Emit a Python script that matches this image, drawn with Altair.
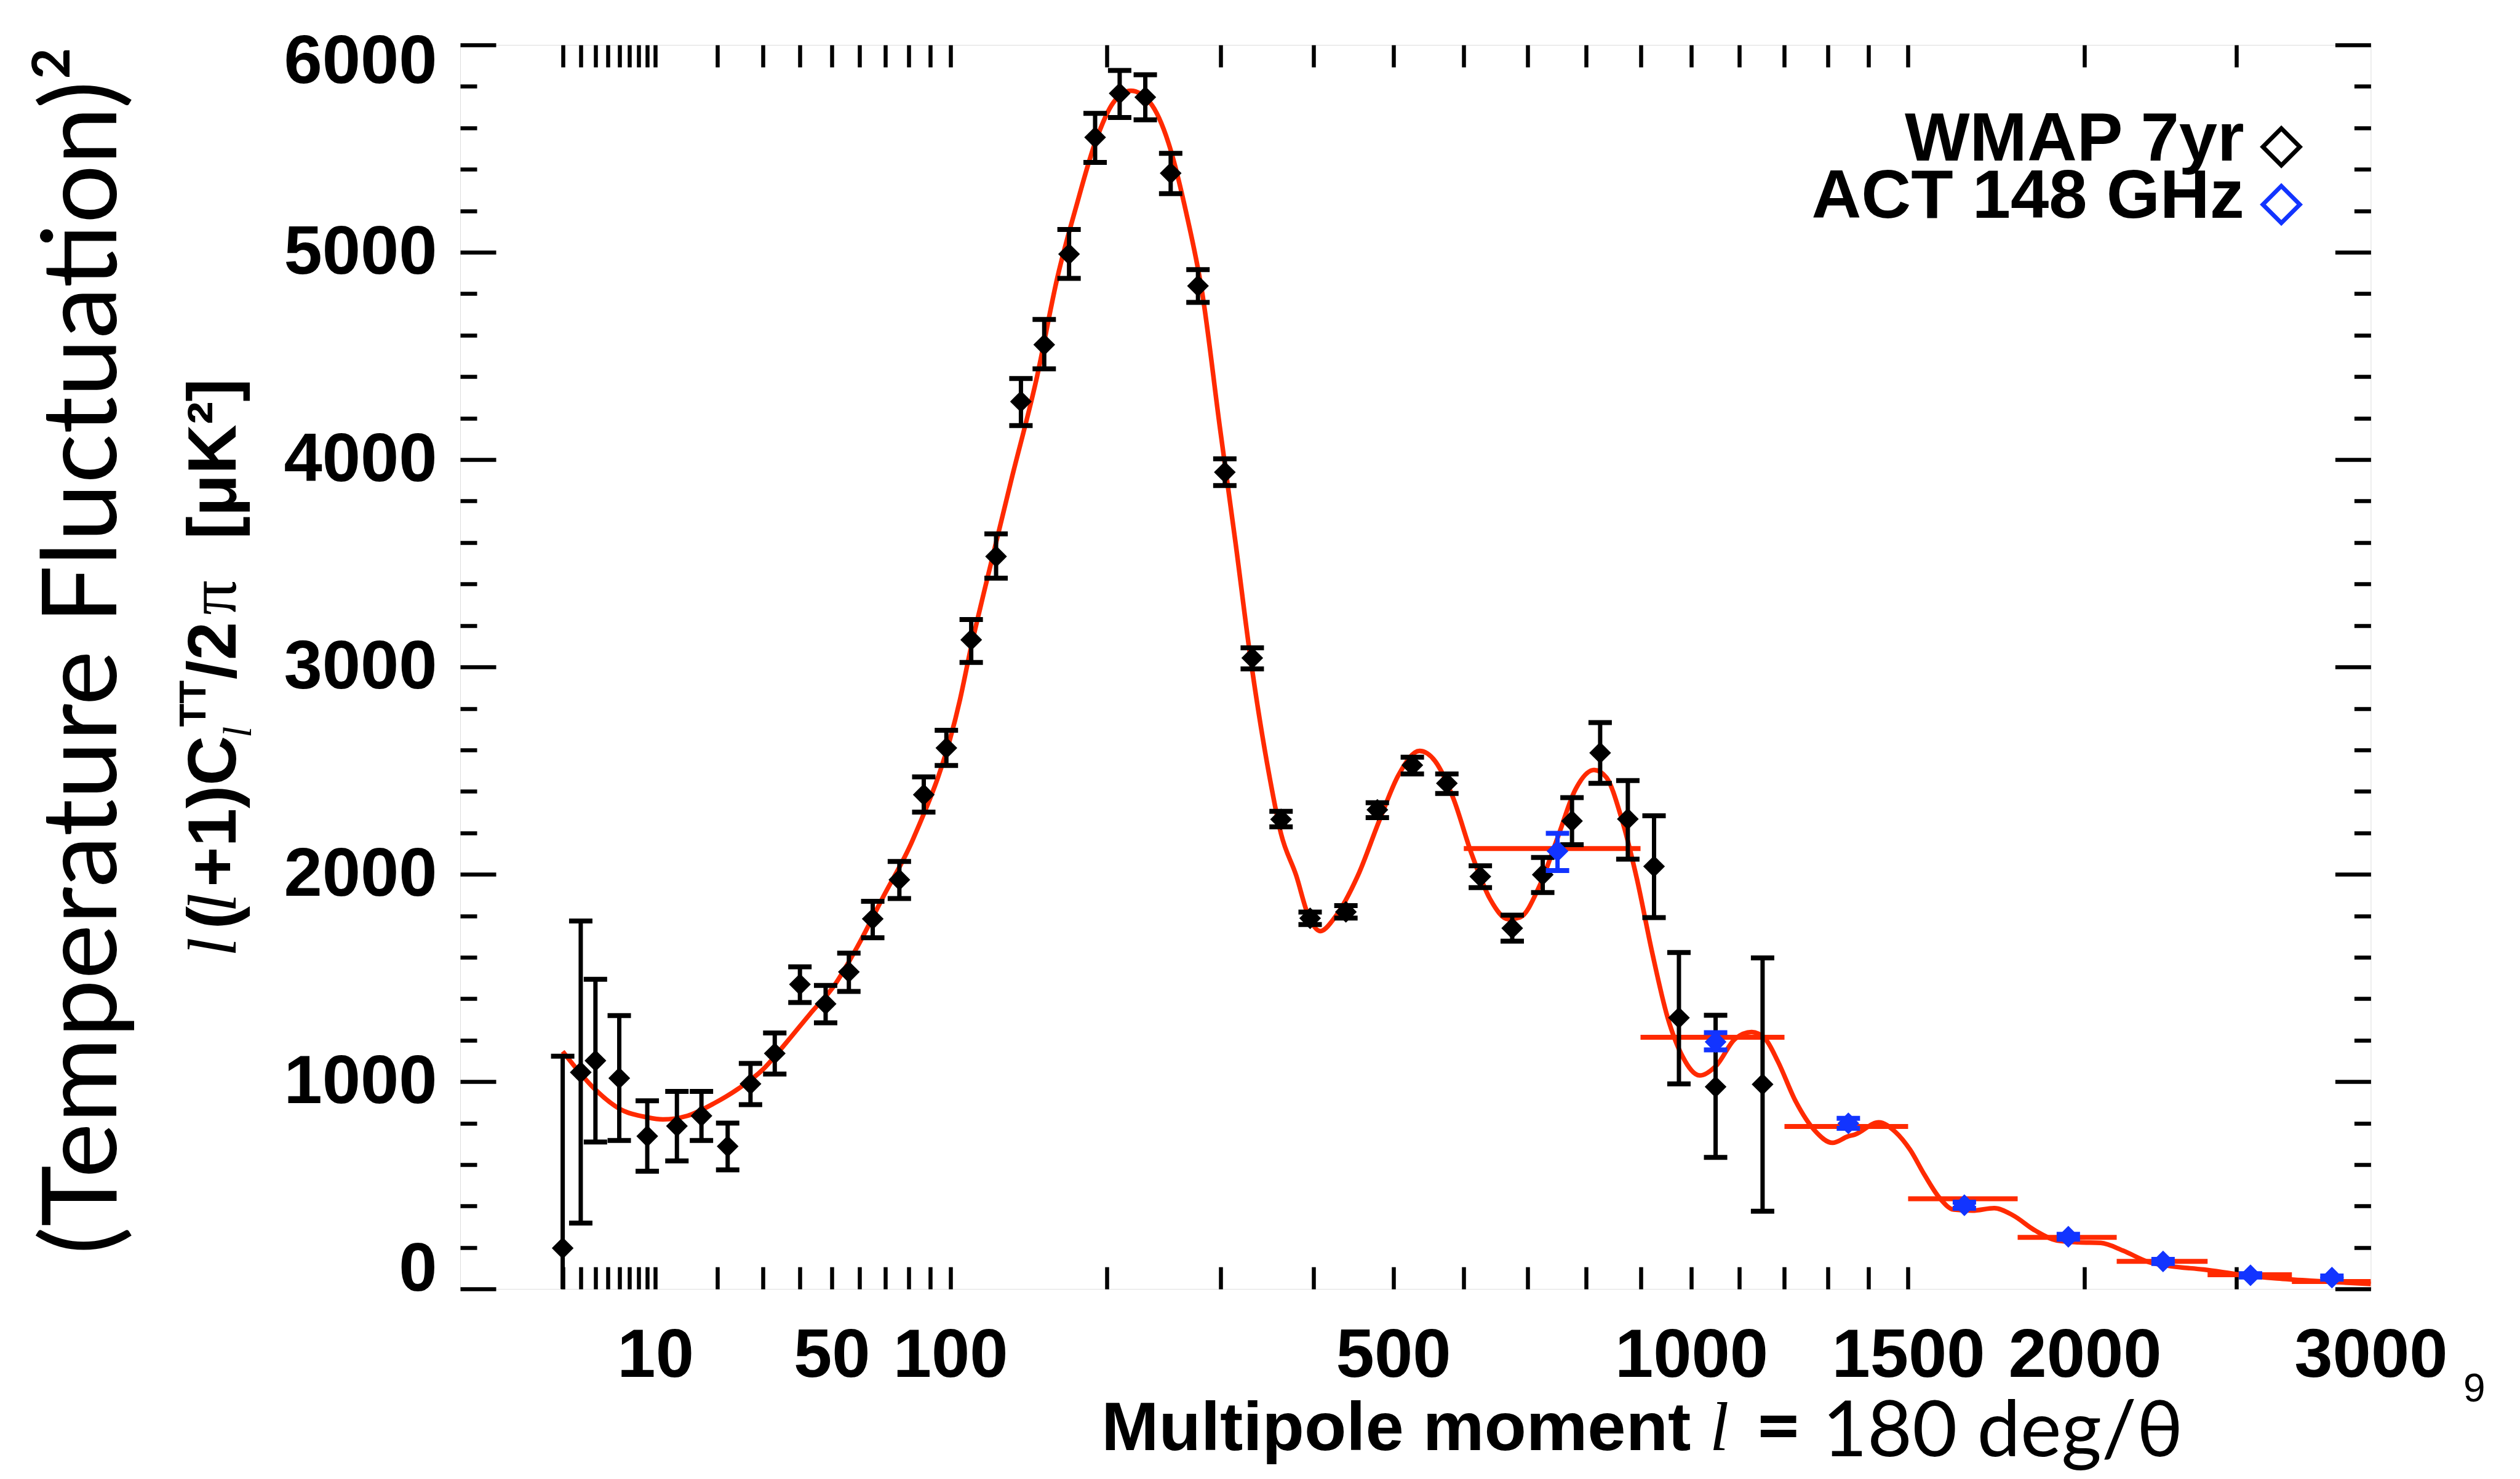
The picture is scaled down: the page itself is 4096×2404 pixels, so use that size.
import altair as alt
import pandas as pd

# ---------------- layout (output pixels) ----------------
W = 3105.4
H = 2022.2
FONT = "Liberation Sans"
SERIF = "Liberation Serif"
HUM = "Lato"
RED = "#ff2a00"
BLUE = "#1234ff"

# ---------------- data ----------------
# WMAP 7-year binned TT spectrum
wmap_l = [2, 3, 4, 6, 9, 13, 17, 22, 27, 33, 40, 48, 56, 65, 76, 87, 98, 111, 125, 140,
          155, 172, 191, 210, 231, 253, 278, 304, 332, 363, 396, 439, 479, 526, 575, 625,
          675, 725, 775, 825, 876, 926, 975, 1050, 1151]
wmap_v = [197, 1045, 1101, 1017, 737, 786, 835, 688, 989, 1136, 1469, 1375, 1529, 1785, 1974,
          2384, 2609, 3131, 3533, 4280, 4554, 4991, 5554, 5766, 5748, 5381, 4838, 3939, 3043,
          2265, 1788, 1819, 2311, 2526, 2439, 1989, 1740, 1998, 2257, 2586, 2267, 2038, 1308,
          975, 987]
wmap_lo = [-730, 318, 709, 716, 568, 618, 716, 575, 889, 1037, 1382, 1284, 1435, 1694, 1883,
           2300, 2525, 3022, 3428, 4164, 4438, 4874, 5433, 5650, 5639, 5283, 4758, 3875, 2991,
           2229, 1758, 1789, 2273, 2484, 2390, 1936, 1678, 1912, 2143, 2439, 2073, 1791, 989,
           635, 375]
wmap_hi = [1123, 1775, 1494, 1319, 908, 953, 953, 800, 1088, 1235, 1554, 1464, 1620, 1870, 2062,
           2470, 2695, 3229, 3642, 4391, 4676, 5110, 5670, 5877, 5856, 5477, 4916, 4004, 3092,
           2304, 1818, 1849, 2345, 2565, 2484, 2041, 1803, 2081, 2370, 2732, 2452, 2282, 1623,
           1320, 1597]

# ACT 148 GHz band powers
act_l = [750, 1050, 1350, 1650, 1950, 2250, 2550, 2850]
act_v = [2112, 1192, 799, 404, 252, 133, 66, 55]
act_lo = [2018, 1153, 775, 389, 240, 123, 58, 47]
act_hi = [2198, 1236, 823, 419, 264, 143, 74, 63]
act_bin_lo = [600, 900, 1200, 1500, 1800, 2100, 2400, 2700]
act_bin_hi = [900, 1200, 1500, 1800, 2100, 2400, 2700, 3000]
act_bin_v = [2124, 1214, 784, 435, 249, 133, 69, 36]

# best-fit model curve
theory_l = [2, 4, 6, 9, 11, 14.6, 19.5, 24.4, 30, 36, 43, 51, 59, 69, 82, 105, 111, 118, 134,
            150, 164, 177, 191, 205, 219, 235, 251, 267, 282, 299, 315, 330, 350, 363, 380, 394,
            408, 425, 454, 482, 507, 536, 558, 584, 612, 640, 669, 688, 719, 750, 781, 814, 836,
            864, 893, 922, 952, 983, 1017, 1052, 1091, 1127, 1157, 1185, 1226, 1269, 1312, 1349,
            1366, 1425, 1467, 1505, 1543, 1582, 1621, 1672, 1733, 1786, 1850, 1915, 1982, 2050,
            2120, 2203, 2275, 2387, 2514, 2646, 2782, 3000]
theory_v = [1146, 961, 870, 828, 818, 835, 898, 968, 1059, 1186, 1326, 1466, 1648, 1887, 2168,
            2842, 3099, 3358, 3900, 4391, 4882, 5218, 5528, 5722, 5779, 5722, 5528, 5192, 4805,
            4159, 3590, 3048, 2480, 2195, 1994, 1800, 1726, 1790, 1994, 2263, 2478, 2595, 2546,
            2370, 2096, 1881, 1783, 1793, 1940, 2175, 2409, 2503, 2468, 2272, 1979, 1627, 1314,
            1118, 1030, 1079, 1206, 1239, 1206, 1098, 903, 766, 705, 736, 745, 804, 758, 672,
            550, 441, 383, 378, 390, 356, 283, 234, 225, 222, 185, 130, 110, 94, 69, 51, 39, 24]

x_tick_values = [2, 3, 4, 5, 6, 7, 8, 9, 10, 20, 30, 40, 50, 60, 70, 80, 90, 100, 200, 300, 400,
                 500, 600, 700, 800, 900, 1000, 1100, 1200, 1300, 1400, 1500, 2000, 2500]
x_label_values = [10, 50, 100, 500, 1000, 1500, 2000, 3000]
y_label_values = [0, 1000, 2000, 3000, 4000, 5000, 6000]
y_tick_values = [0, 200, 400, 600, 800, 1000, 1200, 1400, 1600, 1800, 2000, 2200, 2400, 2600,
                 2800, 3000, 3200, 3400, 3600, 3800, 4000, 4200, 4400, 4600, 4800, 5000, 5200,
                 5400, 5600, 5800, 6000]

wmap = pd.DataFrame({"l": wmap_l, "v": wmap_v, "lo": wmap_lo, "hi": wmap_hi})
wmap_caps = pd.DataFrame({"l": wmap_l + wmap_l, "y": wmap_lo + wmap_hi})
act = pd.DataFrame({"l": act_l, "v": act_v, "lo": act_lo, "hi": act_hi,
                    "blo": act_bin_lo, "bhi": act_bin_hi, "bv": act_bin_v})
act_caps = pd.DataFrame({"l": act_l + act_l, "y": act_lo + act_hi})
theory = pd.DataFrame({"l": theory_l, "v": theory_v})

xs = alt.Scale(type="pow", exponent=0.4, domain=[0, 3000], nice=False, zero=False)
ys = alt.Scale(domain=[0, 6000], nice=False, zero=False)

# ---------------- axes ----------------
ax_x_labels = alt.Axis(orient="bottom", values=x_label_values, ticks=False, domain=False,
                       grid=False, labelFont=FONT, labelFontWeight="bold", labelFontSize=112,
                       labelColor="black", labelPadding=54, labelOverlap=False,
                       labelFlush=False, labelBound=False, labelLimit=0, format="d",
                       title=None)
ax_y_labels = alt.Axis(orient="left", values=y_label_values, ticks=False, domain=False,
                       grid=False, labelFont=FONT, labelFontWeight="bold", labelFontSize=112,
                       labelColor="black", labelPadding=38, labelOverlap=False,
                       labelFlush=True, labelFlushOffset=26, labelLimit=0, format="d",
                       title=None)
ytick_size = {"condition": {"test": "datum.value % 1000 === 0", "value": 58}, "value": 27}
TW = 6.5
ax_x_ticks_bottom = alt.Axis(orient="top", offset=-H, values=x_tick_values, labels=False,
                             domain=False, grid=False, tickSize=36, tickWidth=TW,
                             tickColor="black", title=None)
ax_x_ticks_top = alt.Axis(orient="bottom", offset=-H, values=x_tick_values, labels=False,
                          domain=False, grid=False, tickSize=36, tickWidth=TW,
                          tickColor="black", title=None)
ax_y_ticks_left = alt.Axis(orient="right", offset=-W, values=y_tick_values, labels=False,
                           domain=False, grid=False, tickSize=ytick_size, tickWidth=TW,
                           tickColor="black", title=None)
ax_y_ticks_right = alt.Axis(orient="left", offset=-W, values=y_tick_values, labels=False,
                            domain=False, grid=False, tickSize=ytick_size, tickWidth=TW,
                            tickColor="black", title=None)

# ---------------- data layers ----------------
curve = alt.Chart(theory).mark_line(color=RED, strokeWidth=7.5, interpolate="monotone").encode(
    x=alt.X("l:Q", scale=xs, axis=ax_x_labels),
    y=alt.Y("v:Q", scale=ys, axis=ax_y_labels),
)

act_bins = alt.Chart(act).mark_rule(color=RED, strokeWidth=8).encode(
    x=alt.X("blo:Q", scale=xs, axis=None),
    x2="bhi:Q",
    y=alt.Y("bv:Q", scale=ys, axis=None),
)

wmap_err = alt.Chart(wmap).mark_rule(color="black", strokeWidth=7, clip=True).encode(
    x=alt.X("l:Q", scale=xs, axis=ax_x_ticks_bottom),
    y=alt.Y("lo:Q", scale=ys, axis=ax_y_ticks_left),
    y2="hi:Q",
)

wmap_cap = alt.Chart(wmap_caps).mark_rule(color="black", strokeWidth=8, xOffset=-19,
                                          x2Offset=19, clip=True).encode(
    x=alt.X("l:Q", scale=xs, axis=ax_x_ticks_top),
    x2="l:Q",
    y=alt.Y("y:Q", scale=ys, axis=ax_y_ticks_right),
)

wmap_pts = alt.Chart(wmap).mark_point(shape="diamond", filled=True, color="black", size=1250,
                                      opacity=1).encode(
    x=alt.X("l:Q", scale=xs, axis=None),
    y=alt.Y("v:Q", scale=ys, axis=None),
)

act_err = alt.Chart(act).mark_rule(color=BLUE, strokeWidth=7).encode(
    x=alt.X("l:Q", scale=xs, axis=None),
    y=alt.Y("lo:Q", scale=ys, axis=None),
    y2="hi:Q",
)

act_cap = alt.Chart(act_caps).mark_rule(color=BLUE, strokeWidth=8, xOffset=-19,
                                        x2Offset=19).encode(
    x=alt.X("l:Q", scale=xs, axis=None),
    x2="l:Q",
    y=alt.Y("y:Q", scale=ys, axis=None),
)

act_pts = alt.Chart(act).mark_point(shape="diamond", filled=True, color=BLUE, size=1250,
                                    opacity=1).encode(
    x=alt.X("l:Q", scale=xs, axis=None),
    y=alt.Y("v:Q", scale=ys, axis=None),
)


# ---------------- texts ----------------
def txt(text, x, y, size, font=FONT, weight="normal", style="normal", angle=0,
        align="left", baseline="alphabetic", color="black"):
    return alt.Chart(pd.DataFrame({"t": [text]})).mark_text(
        font=font, fontSize=size, fontWeight=weight, fontStyle=style, angle=angle,
        align=align, baseline=baseline, color=color,
    ).encode(x=alt.value(x), y=alt.value(y), text="t:N")


def sym(x, y, color):
    return alt.Chart(pd.DataFrame({"t": [0]})).mark_point(
        shape="diamond", filled=False, color=color, size=3600, strokeWidth=7, opacity=1
    ).encode(x=alt.value(x), y=alt.value(y))


texts = [
    # big y title
    txt("(Temperature Fluctuation)\u00b2", -558.6, 1966, 169, font=HUM, angle=270),
    # second y title line
    txt("l", -364.6, 1482.0, 112, font=SERIF, style="italic", angle=270),
    txt("(", -364.6, 1437.2, 112, weight="bold", angle=270),
    txt("l", -364.6, 1409.9, 112, font=SERIF, style="italic", angle=270),
    txt("+1)C", -364.6, 1368.7, 112, weight="bold", angle=270),
    txt("l", -340.2, 1126.0, 66, font=SERIF, style="italic", angle=270),
    txt("TT", -414.3, 1108.6, 62, weight="bold", angle=270),
    txt("/2", -364.6, 1031.2, 112, weight="bold", angle=270),
    txt("\u03c0", -364.6, 926.8, 112, font=SERIF, angle=270),
    txt("[\u03bcK\u00b2]", -364.6, 803.6, 112, weight="bold", angle=270),
    # x title
    txt("Multipole moment", 1042.3, 2284.5, 112, weight="bold"),
    txt("l", 2031, 2284.5, 112, font=SERIF, style="italic"),
    txt("=", 2105, 2289, 130, font=HUM, weight="bold"),
    txt("180 deg/\u03b8", 2214, 2294, 126, font=HUM),
    # legend
    txt("WMAP 7yr", 2899.7, 187.9, 112, weight="bold", align="right"),
    txt("ACT 148 GHz", 2899.7, 281.1, 112, weight="bold", align="right"),
    sym(2960.1, 165.8, "black"),
    sym(2960.1, 259.4, BLUE),
    # stray page number
    txt("9", 3256, 2205.5, 64),
]

chart = alt.layer(
    curve, act_bins, wmap_err, wmap_cap, wmap_pts, act_err, act_cap, act_pts, *texts
).resolve_axis(
    x="independent", y="independent"
).properties(
    width=W, height=H,
    autosize=alt.AutoSizeParams(type="none"),
    padding={"left": 740, "top": 65, "right": 230, "bottom": 300},
).configure_view(
    stroke="black", strokeWidth=7
).configure(background="white")

chart.save("out.html", embed_options={"renderer": "svg", "actions": False})
